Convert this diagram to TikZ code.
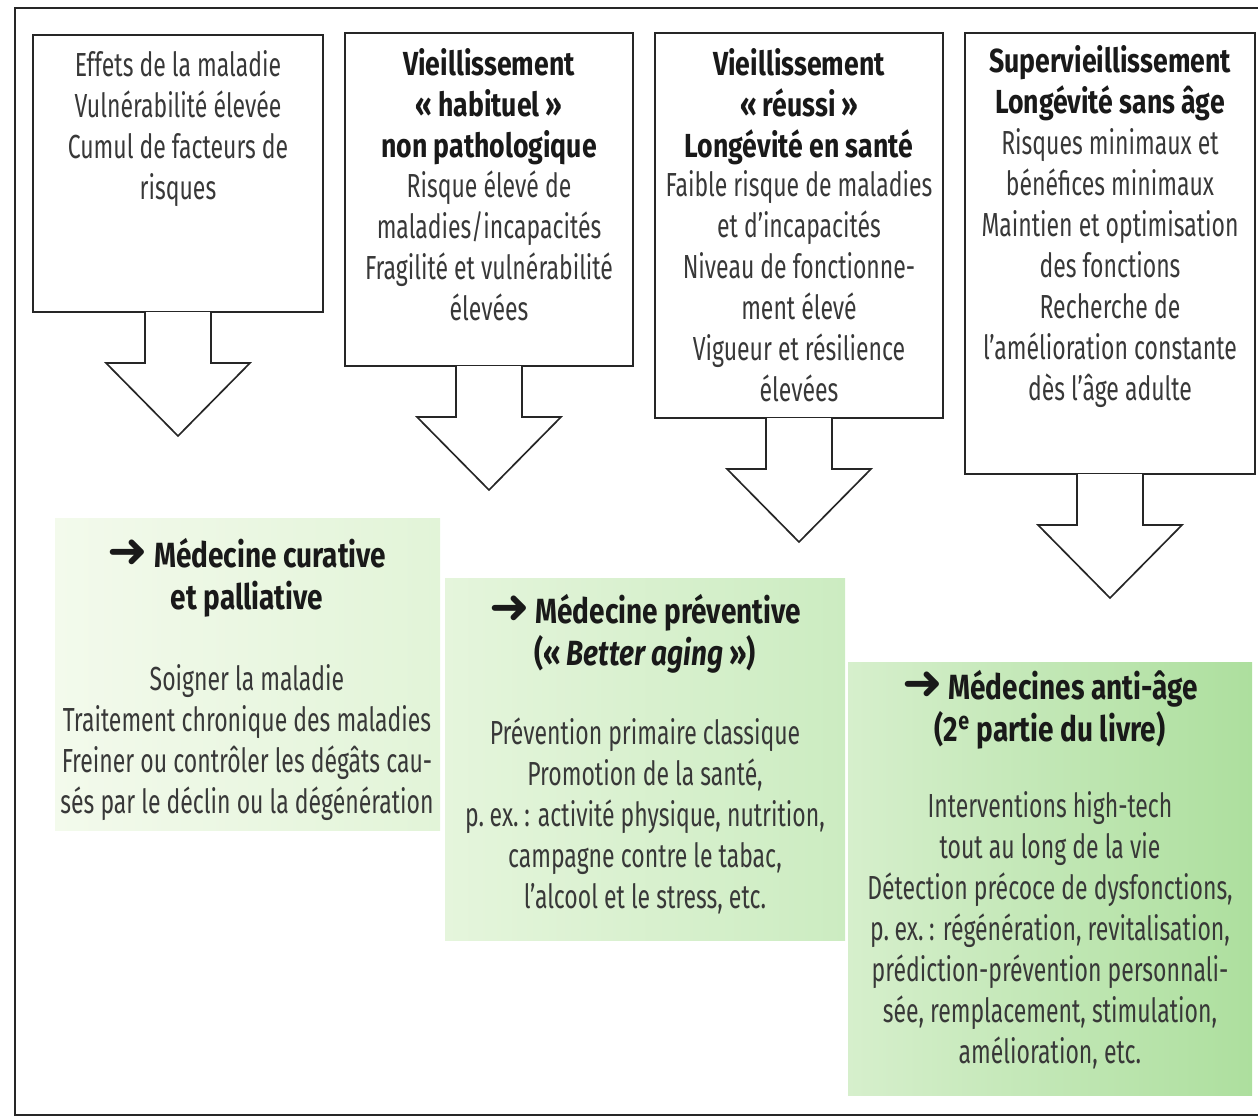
\documentclass[tikz,border=0pt]{standalone}
\usepackage{fontspec}
\setmainfont{Fira Sans}[FakeStretch=0.69]
\newfontfamily\titlefont{Fira Sans}[FakeStretch=0.80]
\newfontfamily\symfont{DejaVu Sans}
\usepackage{xcolor}
\usetikzlibrary{positioning}

\definecolor{inkgray}{HTML}{383838}
\definecolor{greenAl}{HTML}{F3FAEC}
\definecolor{greenAr}{HTML}{E2F4D8}
\definecolor{greenBl}{HTML}{E5F5DC}
\definecolor{greenBr}{HTML}{CCECC1}
\definecolor{greenCl}{HTML}{D6EFCC}
\definecolor{greenCr}{HTML}{ADDF9E}

\newcommand{\tarrow}{{\symfont\bfseries\fontsize{29}{24}\selectfont ➜}\,}

\begin{document}
\begin{tikzpicture}[
  x=0.6pt, y=-0.6pt,
  frame/.style={draw=black!85, line width=1.5pt},
  boxline/.style={draw=black!85, line width=1.2pt},
  blockarr/.style={draw=black!85, fill=white, line width=1pt, line join=miter},
  txt/.style={align=center, inner sep=0pt, text=inkgray, font=\fontsize{20}{24.6}\selectfont},
  ttl/.style={align=center, inner sep=0pt, text=black!90, font=\titlefont\bfseries\fontsize{20}{24.6}\selectfont},
  gttl/.style={align=center, inner sep=0pt, text=black!90, font=\titlefont\bfseries\fontsize{21}{25.2}\selectfont}
]
\useasboundingbox (0,0) rectangle (1258,1118);

% outer frame
\draw[frame] (1262,8) -- (15,8) -- (15,1115) -- (1262,1115);

% top boxes
\draw[boxline] (33,35) rectangle (323,312);
\draw[boxline] (345,33) rectangle (633,366);
\draw[boxline] (655,33) rectangle (943,418);
\draw[boxline] (965,33) rectangle (1255,474);

\node[txt, anchor=north] (effets) at (178,50)
  {Effets de la maladie\\Vulnérabilité élevée\\Cumul de facteurs de\\risques};

\node[ttl, anchor=north] (habituel) at (489,48)
  {Vieillissement\\«\,habituel\,»\\non pathologique};
\node[txt, below=3pt of habituel] (habituelB)
  {Risque élevé de\\maladies/incapacités\\Fragilité et vulnérabilité\\élevées};

\node[ttl, anchor=north] (reussi) at (799,48)
  {Vieillissement\\«\,réussi\,»\\Longévité en santé};
\node[txt, below=3pt of reussi] (reussiB)
  {Faible risque de maladies\\et d’incapacités\\Niveau de fonctionne-\\ment élevé\\Vigueur et résilience\\élevées};

\node[ttl, anchor=north] (super) at (1110,45)
  {Supervieillissement\\Longévité sans âge};
\node[txt, below=4pt of super] (superB)
  {Risques minimaux et\\bénéfices minimaux\\Maintien et optimisation\\des fonctions\\Recherche de\\l’amélioration constante\\dès l’âge adulte};

% block arrows
\foreach \cx/\yt in {178/312, 489/366, 799/418, 1110/474}
  \draw[blockarr] (\cx-33,\yt) -- (\cx-33,\yt+51) -- (\cx-72,\yt+51) -- (\cx,\yt+124)
    -- (\cx+72,\yt+51) -- (\cx+33,\yt+51) -- (\cx+33,\yt);

% green boxes
\shade[left color=greenAl, right color=greenAr] (55,518) rectangle (440,830);
\shade[left color=greenBl, right color=greenBr] (445,578) rectangle (845,940);
\shade[left color=greenCl, right color=greenCr] (848,662) rectangle (1252,1095);

\node[gttl, anchor=north] (curative) at (247,538)
  {\tarrow Médecine curative\\et palliative};
\node[txt, below=28pt of curative] (curativeB)
  {Soigner la maladie\\Traitement chronique des maladies\\Freiner ou contrôler les dégâts cau-\\sés par le déclin ou la dégénération};

\node[gttl, anchor=north] (preventive) at (645,594)
  {\tarrow Médecine préventive\\(«\,\textit{Better aging}\,»)};
\node[txt, below=26pt of preventive] (preventiveB)
  {Prévention primaire classique\\Promotion de la santé,\\p.\,ex.\,: activité physique, nutrition,\\campagne contre le tabac,\\l’alcool et le stress, etc.};

\node[gttl, anchor=north] (antiage) at (1050,670)
  {\tarrow Médecines anti-âge\\(2\textsuperscript{e} partie du livre)};
\node[txt, below=25pt of antiage] (antiageB)
  {Interventions high-tech\\tout au long de la vie\\Détection précoce de dysfonctions,\\p.\,ex.\,: régénération, revitalisation,\\prédiction-prévention personnali-\\sée, remplacement, stimulation,\\amélioration, etc.};

\end{tikzpicture}
\end{document}
